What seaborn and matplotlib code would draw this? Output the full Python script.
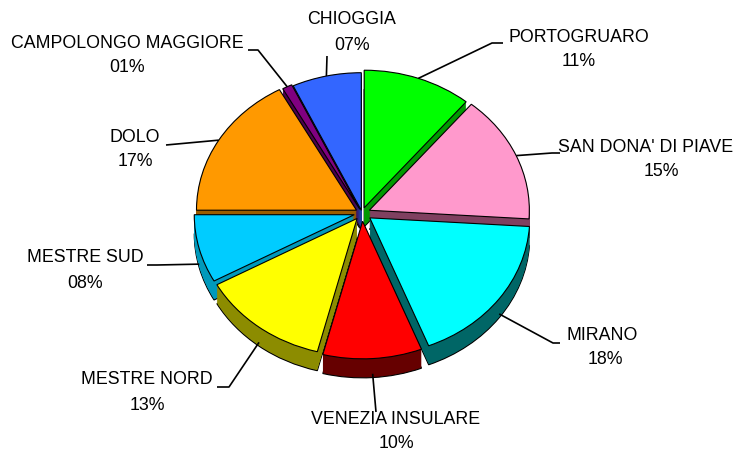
import numpy as np
import matplotlib
matplotlib.use("Agg")
import matplotlib.pyplot as plt
import seaborn as sns
from matplotlib.transforms import Affine2D

# ---- data ----
names = ["PORTOGRUARO", "SAN DONA' DI PIAVE", "MIRANO", "VENEZIA INSULARE",
         "MESTRE NORD", "MESTRE SUD", "DOLO", "CAMPOLONGO MAGGIORE", "CHIOGGIA"]
values = [11, 15, 18, 10, 13, 8, 17, 1, 7]
pct_labels = ["%02d%%" % v for v in values]

# ---- style ----
top_colors = ["#00FF00", "#FF99CC", "#00FFFF", "#FF0000", "#FFFF00",
              "#00CCFF", "#FF9900", "#800080", "#3366FF"]
side_colors = ["#009900", "#804060", "#006666", "#660000", "#8C8C00",
               "#0099BB", "#995C00", "#4D004D", "#1F3D99"]
explode_frac = [0.04, 0.05, 0.06, 0.06, 0.05, 0.05, 0.04, 0.03, 0.02]

sns.set_theme(style="white")
plt.rcParams['font.family'] = ['Liberation Sans', 'DejaVu Sans']

W, H = 750, 455
fig = plt.figure(figsize=(W / 100, H / 100), dpi=100)
ax = fig.add_axes([0, 0, 1, 1])

cx, cy, R, k, depth = 362, 213, 160, 0.86, 19
explode = [e * R for e in explode_frac]

def pie_layer(colors, dy, z, lw):
    wedges, _ = ax.pie(values, startangle=90, counterclock=False, colors=colors,
                       explode=explode, radius=R, center=(0, 0),
                       wedgeprops=dict(edgecolor="black", linewidth=lw, zorder=z))
    tr = Affine2D().scale(1, -k).translate(cx, cy + dy) + ax.transData
    for w in wedges:
        w.set_transform(tr)
    return wedges

# extruded sides
n_layers = 20
for i, dy in enumerate(np.linspace(depth, 0.5, n_layers)):
    pie_layer(side_colors, dy, 1 + i * 0.001, 0.8 if i == 0 else 0)
# top faces
pie_layer(top_colors, 0, 3, 0.8)

ax.set_aspect("auto")
ax.set_xlim(0, W)
ax.set_ylim(H, 0)
ax.axis("off")

# ---- labels & leader lines ----
text_pos = {  # (x center, y line1, y line2)
    "PORTOGRUARO": (579, 38, 62),
    "SAN DONA' DI PIAVE": (646, 148, 172),
    "MIRANO": (602, 335, 360),
    "VENEZIA INSULARE": (396, 420, 444),
    "MESTRE NORD": (147, 380, 405),
    "MESTRE SUD": (85, 258, 283),
    "DOLO": (135, 137, 162),
    "CAMPOLONGO MAGGIORE": (127, 44, 68),
    "CHIOGGIA": (352, 20, 45),
}
pct_x = {"SAN DONA' DI PIAVE": 661, "MIRANO": 605}
elbows = {
    "PORTOGRUARO": [(503, 43), (492, 43)],
    "SAN DONA' DI PIAVE": [(560, 153), (552, 153)],
    "MIRANO": [(560, 343), (553, 343)],
    "VENEZIA INSULARE": [(376, 412)],
    "MESTRE NORD": [(217, 387), (229, 387)],
    "MESTRE SUD": [(147, 265), (157, 265)],
    "DOLO": [(166, 145)],
    "CAMPOLONGO MAGGIORE": [(248, 50), (258, 50)],
    "CHIOGGIA": [(327, 56)],
}

cum = 0.0
total = float(sum(values))
for i, name in enumerate(names):
    mid = 90 - (cum + values[i] / 2) / total * 360
    cum += values[i]
    th = np.deg2rad(mid)
    ra = R + explode[i]
    ax_ = cx + ra * np.cos(th)
    ay_ = cy - k * ra * np.sin(th)
    if np.sin(th) < 0:
        ay_ += depth * 0.8
    pts = elbows[name] + [(ax_, ay_)]
    ax.plot([p[0] for p in pts], [p[1] for p in pts], color="black", lw=1.2,
            zorder=5, solid_capstyle="butt")
    x, y1, y2 = text_pos[name]
    ax.text(x, y1, name, ha="center", va="center", fontsize=12.8, color="black")
    ax.text(pct_x.get(name, x), y2, pct_labels[i], ha="center", va="center",
            fontsize=12.8, color="black")

fig.savefig("out.png", dpi=100)
